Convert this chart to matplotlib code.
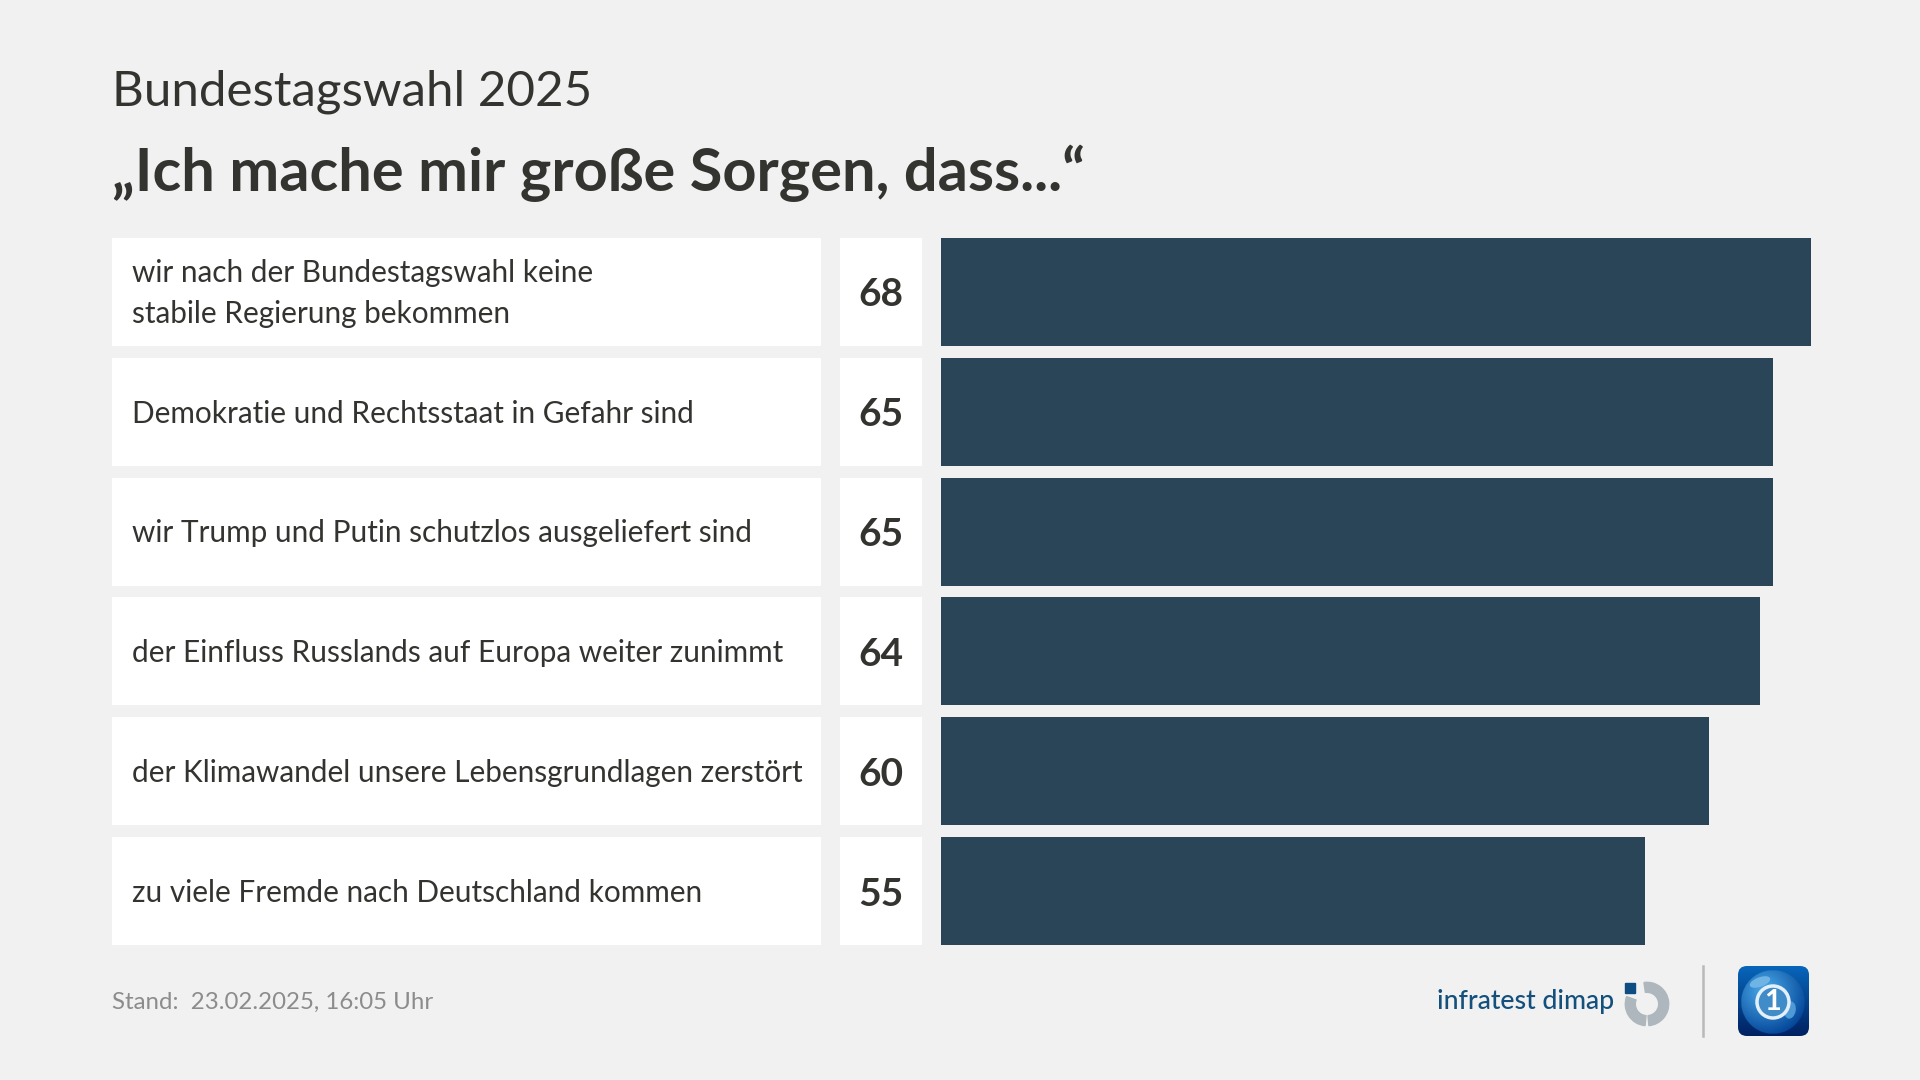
import matplotlib
matplotlib.use("Agg")
import matplotlib.pyplot as plt
import numpy as np
from matplotlib.patches import FancyBboxPatch, Circle, Wedge, Rectangle, Ellipse

plt.rcParams["font.family"] = ["Lato", "DejaVu Sans"]

naglowek = "Bundestagswahl 2025"
tytul = "„Ich mache mir große Sorgen, dass...“"
kategorie = [
    "wir nach der Bundestagswahl keine\nstabile Regierung bekommen",
    "Demokratie und Rechtsstaat in Gefahr sind",
    "wir Trump und Putin schutzlos ausgeliefert sind",
    "der Einfluss Russlands auf Europa weiter zunimmt",
    "der Klimawandel unsere Lebensgrundlagen zerstört",
    "zu viele Fremde nach Deutschland kommen",
]
wartosci = [68, 65, 65, 64, 60, 55]
stand = "Stand:  23.02.2025, 16:05 Uhr"

TLO = "#f1f1f1"
CIEMNY = "#333330"
BAR = "#2a4557"

W, H = 1920, 1080
fig = plt.figure(figsize=(19.2, 10.8), dpi=100, facecolor=TLO)


def osie(x0, y0, x1, y1):
    ax = fig.add_axes([x0 / W, 1 - y1 / H, (x1 - x0) / W, (y1 - y0) / H])
    ax.axis("off")
    return ax


y = np.arange(len(wartosci))
ax_lab = osie(112, 238, 821, 945)
ax_val = osie(840, 238, 922, 945)
ax_bar = osie(941, 238, 1811, 945)
for ax in (ax_lab, ax_val, ax_bar):
    ax.set_ylim(len(y) - 1 + 0.45, -0.45)

ax_lab.set_xlim(0, 1)
ax_val.set_xlim(0, 1)
ax_bar.set_xlim(0, max(wartosci))

ax_lab.barh(y, [1] * len(y), height=0.9, color="white")
ax_val.barh(y, [1] * len(y), height=0.9, color="white")
ax_bar.barh(y, wartosci, height=0.9, color=BAR)

for i, (k, v) in enumerate(zip(kategorie, wartosci)):
    # przesunięcie o ok. 2-3 px w dół, bo Lato siedzi wyżej niż oryginał
    ax_lab.text(20 / 709, i + 0.015, k, va="center", ha="left", fontsize=21.4, color=CIEMNY,
                linespacing=1.55)
    ax_val.text(0.5, i + 0.025, str(v), va="center", ha="center", fontsize=28,
                fontweight="bold", color=CIEMNY)

fig.text(112 / W, 1 - 92 / H, naglowek, fontsize=35.5, color=CIEMNY, va="center", ha="left")
fig.text(112 / W, 1 - 173.5 / H, tytul, fontsize=42.8, color=CIEMNY, va="center", ha="left",
         fontweight="bold")
fig.text(112 / W, 1 - 1002 / H, stand, fontsize=17.3, color="#8c8c8c", va="center", ha="left")

# stopka: logo infratest dimap, kreska, ikona tagesschau
ax_logo = osie(0, 0, W, H)
ax_logo.set_zorder(5)
ax_logo.text(1437, 1002, "infratest dimap", fontsize=19.2, color="#14507c", va="center", ha="left",
             fontweight="medium")
# oś y odwrócona, więc kąty idą zgodnie z zegarem
ax_logo.add_patch(Wedge((1647, 1004), 21.7, 262, 85, width=10, color="#aeb7bd"))
ax_logo.add_patch(Wedge((1647, 1004), 21.7, 95, 200, width=10, color="#aeb7bd"))
ax_logo.add_patch(Rectangle((1625, 983), 10, 9.5, color="#0f4c81"))
ax_logo.plot([1702.5, 1702.5], [966, 1036], color="#b9b9b9", lw=1.8)

grad = np.linspace(0, 1, 200)[:, None, None]
kolor_a = np.array([0.03, 0.40, 0.73])[None, None, :]
kolor_b = np.array([0.0, 0.13, 0.38])[None, None, :]
obraz = kolor_a * (1 - grad) + kolor_b * grad
im = ax_logo.imshow(obraz, extent=(1738, 1809, 1036, 966), aspect="auto", zorder=2)
ramka = FancyBboxPatch((1738, 966), 71, 70, boxstyle="round,pad=0,rounding_size=9",
                       fc="none", ec="none")
ax_logo.add_patch(ramka)
im.set_clip_path(ramka)

# globus - jasny z lewej u góry, ciemnieje ku dołowi
xx, yy = np.meshgrid(np.linspace(-1, 1, 200), np.linspace(-1, 1, 200))
d = np.clip(np.hypot(xx + 0.25, yy + 0.35) / 1.5, 0, 1)[..., None]
globus = np.dstack([(np.array([0.30, 0.68, 0.92]) * (1 - d) + np.array([0.0, 0.25, 0.58]) * d),
                    (np.hypot(xx, yy) < 1).astype(float)])
ax_logo.imshow(globus, extent=(1741, 1805, 1034, 970), aspect="auto", zorder=3)
ax_logo.add_patch(Ellipse((1760, 982), 20, 8, angle=-20, color="#6fb4e4", zorder=3.5))
ax_logo.add_patch(Ellipse((1790, 1010), 10, 16, angle=10, color="#4e9ad6", zorder=3.5))
ax_logo.add_patch(Circle((1773, 1002), 16, fc="#3f8cc8", ec="#e3f0f9", lw=2.5, zorder=4))
ax_logo.text(1773, 1002, "1", fontsize=21, fontweight="bold", color="white", ha="center",
             va="center", zorder=5)
ax_logo.set_xlim(0, W)
ax_logo.set_ylim(H, 0)
ax_logo.set_aspect("auto")

fig.savefig("out.png", dpi=100, facecolor=TLO)
